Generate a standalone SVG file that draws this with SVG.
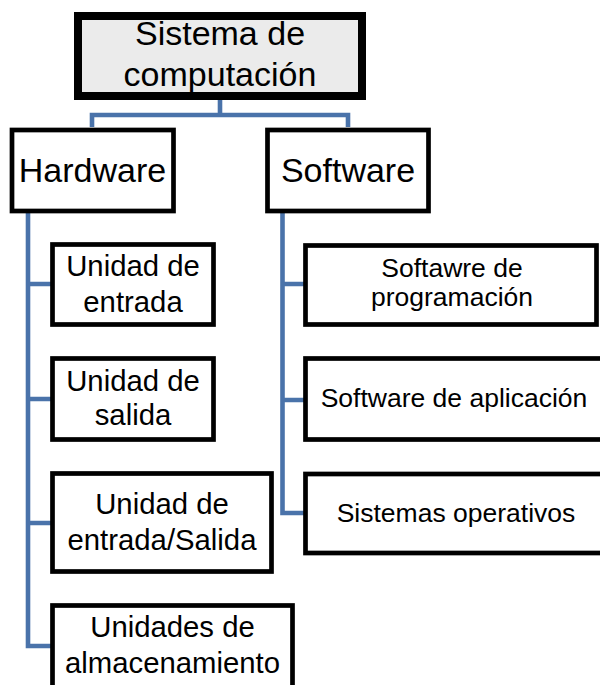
<svg xmlns="http://www.w3.org/2000/svg" width="600" height="685" viewBox="0 0 600 685">
<style>
.box{fill:#ffffff;stroke:#000000;stroke-width:4.7}
.root{fill:#ebebeb;stroke:#000000;stroke-width:8}
.t{font-family:"Liberation Sans",Arial,sans-serif;fill:#000000;text-anchor:middle}
.big{font-size:34px}
.mid{font-size:29.3px}
.sm{font-size:26.5px}
.con{fill:none;stroke:#4a73aa;stroke-width:4.6}
</style>
<rect width="600" height="685" fill="#ffffff"/>
<g id="connectors">
<path class="con" d="M220 100V115M92 127V115H348V127"/>
<path class="con" d="M28 213V646H52M28 284H52M28 399H52M28 523H52"/>
<path class="con" d="M282.5 213V513H305M282.5 284H305M282.5 400H305"/>
</g>
<g id="root">
<rect class="root" x="78" y="16" width="284" height="80"/>
<text class="t big" x="220" y="45">Sistema de</text>
<text class="t big" x="220" y="86">computación</text>
</g>
<g id="hardware">
<rect class="box" x="12" y="130" width="161.5" height="81"/>
<text class="t big" x="92.5" y="182">Hardware</text>
</g>
<g id="software">
<rect class="box" x="267.5" y="130" width="161" height="81"/>
<text class="t big" x="348" y="182">Software</text>
</g>
<g id="entrada">
<rect class="box" x="52.5" y="244.5" width="161" height="80"/>
<text class="t mid" x="133" y="276">Unidad de</text>
<text class="t mid" x="133" y="312">entrada</text>
</g>
<g id="salida">
<rect class="box" x="52.5" y="358.5" width="161" height="81"/>
<text class="t mid" x="133" y="391">Unidad de</text>
<text class="t mid" x="133" y="425">salida</text>
</g>
<g id="entrada-salida">
<rect class="box" x="52.5" y="473.5" width="219" height="98"/>
<text class="t mid" x="162" y="514">Unidad de</text>
<text class="t mid" x="162" y="550">entrada/Salida</text>
</g>
<g id="almacenamiento">
<rect class="box" x="52.5" y="605.5" width="240" height="100"/>
<text class="t mid" x="172.5" y="637">Unidades de</text>
<text class="t mid" x="172.5" y="673">almacenamiento</text>
</g>
<g id="programacion">
<rect class="box" x="305.5" y="245.5" width="291" height="79"/>
<text class="t sm" x="452" y="277">Softawre de</text>
<text class="t sm" x="452" y="306">programación</text>
</g>
<g id="aplicacion">
<rect class="box" x="305.5" y="358.5" width="310" height="81"/>
<text class="t sm" x="454" y="407">Software de aplicación</text>
</g>
<g id="operativos">
<rect class="box" x="305.5" y="474" width="310" height="79"/>
<text class="t sm" x="456" y="522">Sistemas operativos</text>
</g>
</svg>
